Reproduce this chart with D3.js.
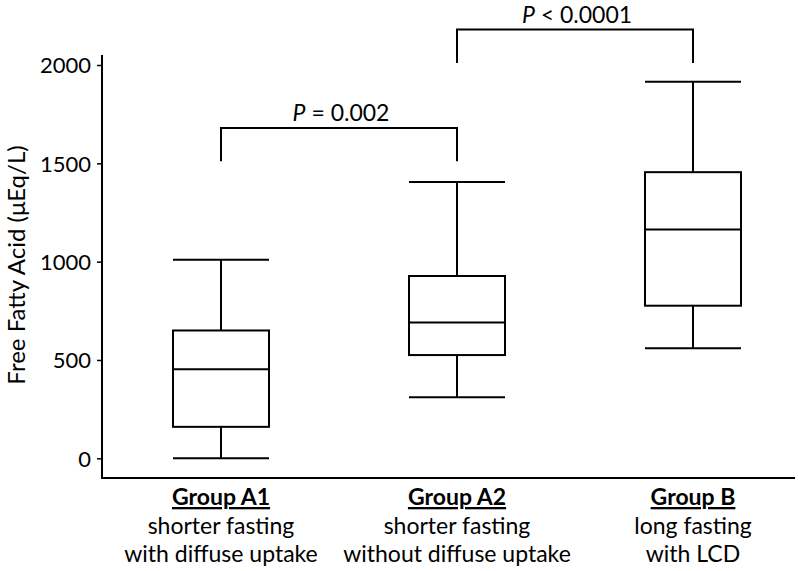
<!doctype html>
<html lang="en">
<head>
<meta charset="UTF-8">
<script type="text/javascript" src="https://cdn.jsdelivr.net/npm/d3@7"></script>
<style>
  body { margin: 0; background: #fff; }
  .chart text { font-family: Lato, "Open Sans", sans-serif; fill: #000; }
  .box line, .box rect, .bracket path { stroke: #000; stroke-width: 2; fill: none; }
</style>
</head>
<body>
<svg class="chart"></svg>
<script type="text/javascript">
// groups and their summary values (whisker min, Q1, median, Q3, whisker max)
let groups = ["Group A1", "Group A2", "Group B"];
let subLine1 = ["shorter fasting", "shorter fasting", "long fasting"];
let subLine2 = ["with diffuse uptake", "without diffuse uptake", "with LCD"];
let minVals = [0, 310, 560];
let q1Vals = [160, 525, 776];
let medianVals = [453, 690, 1163];
let q3Vals = [650, 927, 1455];
let maxVals = [1010, 1405, 1915];
let yTicks = [0, 500, 1000, 1500, 2000];

// significance brackets: from group, to group, level (value), label pieces
let brackets = [
  {from: "Group A1", to: "Group A2", top: 1680, bottom: 1510, sign: " = 0.002"},
  {from: "Group A2", to: "Group B", top: 2180, bottom: 2010, sign: " < 0.0001"}
];

let width = 798, height = 571;
let svg = d3.select("svg").attr("width", width).attr("height", height);

let yScale = d3.scaleLinear().domain([0, 2000]).range([458.3, 65]);
let xScale = d3.scalePoint().domain(groups).range([221, 693]);
let boxW = 96;

// y axis
let yAxis = d3.axisLeft(yScale).tickValues(yTicks).tickFormat(d3.format("d"))
  .tickSize(5).tickPadding(6);
let yG = svg.append("g").attr("class", "axis")
  .attr("transform", "translate(102,0)")
  .call(yAxis);
yG.select(".domain").remove();
yG.selectAll(".tick line").attr("stroke-width", 1.5);
yG.selectAll(".tick text").style("font-size", "22px").attr("dy", "0.36em");
svg.append("line").attr("x1", 102).attr("x2", 102).attr("y1", 55).attr("y2", 479)
  .attr("stroke", "#000").attr("stroke-width", 2);
// x axis line
svg.append("line").attr("x1", 101).attr("x2", 795).attr("y1", 478).attr("y2", 478)
  .attr("stroke", "#000").attr("stroke-width", 2);

svg.append("text")
  .attr("transform", "translate(25,265) rotate(-90)")
  .attr("text-anchor", "middle")
  .style("font-size", "24px")
  .text("Free Fatty Acid (\u03bcEq/L)");

// boxes
let box = svg.selectAll(".box").data(groups).enter().append("g").attr("class", "box");
box.append("line")
  .attr("x1", d => xScale(d)).attr("x2", d => xScale(d))
  .attr("y1", (d, i) => yScale(maxVals[i])).attr("y2", (d, i) => yScale(q3Vals[i]));
box.append("line")
  .attr("x1", d => xScale(d)).attr("x2", d => xScale(d))
  .attr("y1", (d, i) => yScale(q1Vals[i])).attr("y2", (d, i) => yScale(minVals[i]));
box.append("line")
  .attr("x1", d => xScale(d) - boxW / 2).attr("x2", d => xScale(d) + boxW / 2)
  .attr("y1", (d, i) => yScale(maxVals[i])).attr("y2", (d, i) => yScale(maxVals[i]));
box.append("line")
  .attr("x1", d => xScale(d) - boxW / 2).attr("x2", d => xScale(d) + boxW / 2)
  .attr("y1", (d, i) => yScale(minVals[i])).attr("y2", (d, i) => yScale(minVals[i]));
box.append("rect")
  .attr("x", d => xScale(d) - boxW / 2).attr("width", boxW)
  .attr("y", (d, i) => yScale(q3Vals[i]))
  .attr("height", (d, i) => yScale(q1Vals[i]) - yScale(q3Vals[i]));
box.append("line")
  .attr("x1", d => xScale(d) - boxW / 2).attr("x2", d => xScale(d) + boxW / 2)
  .attr("y1", (d, i) => yScale(medianVals[i])).attr("y2", (d, i) => yScale(medianVals[i]));

// category labels
let lab = svg.selectAll(".catlab").data(groups).enter().append("text")
  .attr("class", "catlab")
  .attr("text-anchor", "middle")
  .style("font-size", "23px");
lab.append("tspan").attr("x", d => xScale(d)).attr("y", 505)
  .style("font-weight", "bold").style("text-decoration", "underline")
  .text(d => d);
lab.append("tspan").attr("x", d => xScale(d)).attr("y", 534)
  .text((d, i) => subLine1[i]);
lab.append("tspan").attr("x", d => xScale(d)).attr("y", 562)
  .text((d, i) => subLine2[i]);

// significance brackets
let br = svg.selectAll(".bracket").data(brackets).enter().append("g").attr("class", "bracket");
br.append("path").attr("d", d => {
  let x1 = xScale(d.from), x2 = xScale(d.to);
  let yt = yScale(d.top), yb = yScale(d.bottom);
  return "M" + x1 + "," + yb + "V" + yt + "H" + x2 + "V" + yb;
});
let pt = br.append("text")
  .attr("x", d => (xScale(d.from) + xScale(d.to)) / 2 + 2)
  .attr("y", d => yScale(d.top) - 7)
  .attr("text-anchor", "middle")
  .style("font-size", "23px");
pt.append("tspan").style("font-style", "italic").text("P");
pt.append("tspan").text(d => d.sign);
</script>
</body>
</html>
